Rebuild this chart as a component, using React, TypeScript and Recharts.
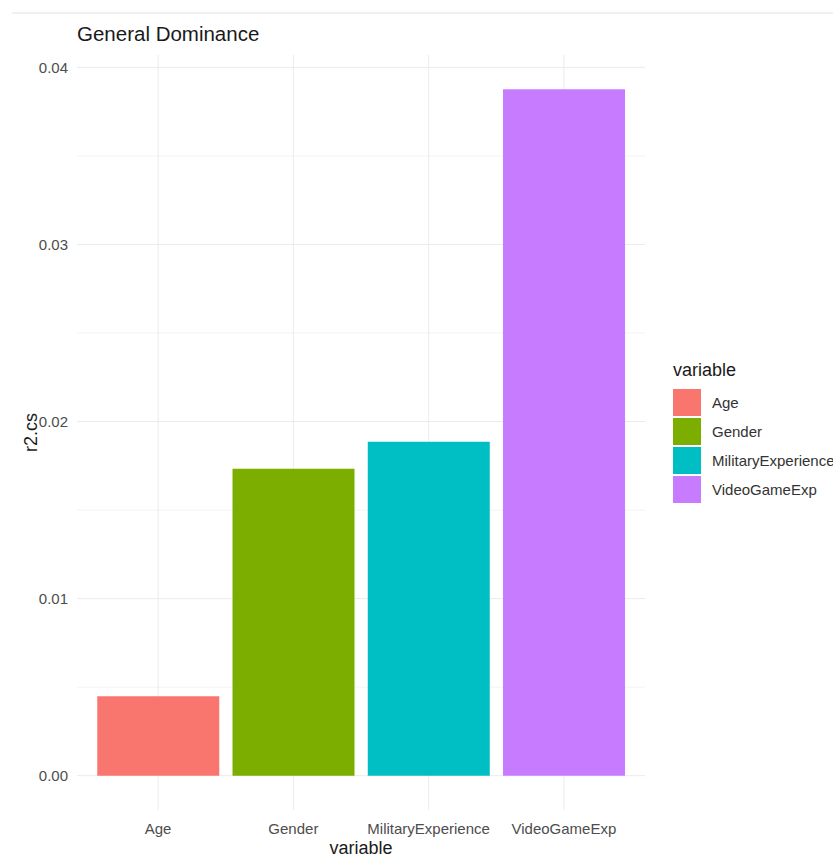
import React from 'react';
import { BarChart, Bar, XAxis, YAxis, CartesianGrid, Cell, Label } from 'recharts';

const categories = ['Age', 'Gender', 'MilitaryExperience', 'VideoGameExp'];
const values = [0.00448, 0.01733, 0.01886, 0.03876];
const colors = ['#F8766D', '#7CAE00', '#00BFC4', '#C77CFF'];
const yTicks = [0, 0.01, 0.02, 0.03, 0.04];
const yMinorTicks = [0.005, 0.015, 0.025, 0.035];
const titleText = 'General Dominance';
const xTitle = 'variable';
const yTitle = 'r2.cs';
const legendTitle = 'variable';

const data = categories.map((c, i) => ({ variable: c, value: values[i] }));
const maxVal = Math.max(...values);
const yDomain = [-maxVal * 0.05, maxVal * 1.05];

const FONT = '"Liberation Sans", Arial, sans-serif';

export default function App() {
  return (
    <div style={{ position: 'absolute', left: 0, top: 0, width: 833, height: 858, background: '#fff', fontFamily: FONT }}>
      <div style={{ position: 'absolute', left: 12, top: 12, width: 821, height: 0, borderTop: '2px solid #f0f0f0' }} />
      <div style={{ position: 'absolute', left: 77, top: 22, fontSize: 20.5, color: '#1a1a1a', whiteSpace: 'nowrap' }}>{titleText}</div>
      <BarChart width={833} height={858} data={data} margin={{ top: 55, right: 188, bottom: 0, left: 0 }} barCategoryGap="5%">
        <CartesianGrid vertical={false} stroke="#f3f3f3" strokeWidth={1} yAxisId="minor" syncWithTicks />
        <CartesianGrid stroke="#ebebeb" strokeWidth={1} syncWithTicks />
        <XAxis
          dataKey="variable"
          type="category"
          height={48}
          padding={{ left: 13.5, right: 13.5 }}
          axisLine={false}
          tickLine={false}
          tickSize={0}
          tickMargin={13}
          tick={{ fill: '#4d4d4d', fontSize: 15, fontFamily: FONT }}
          interval={0}
        >
          <Label value={xTitle} position="insideBottom" offset={4} style={{ fill: '#1a1a1a', fontSize: 18, fontFamily: FONT }} />
        </XAxis>
        <YAxis yAxisId="minor" type="number" domain={yDomain} ticks={yMinorTicks} hide allowDataOverflow />
        <YAxis
          type="number"
          domain={yDomain}
          ticks={yTicks}
          width={77}
          axisLine={false}
          tickLine={false}
          tickSize={0}
          tickMargin={9}
          tickFormatter={(v: number) => v.toFixed(2)}
          tick={{ fill: '#4d4d4d', fontSize: 15, fontFamily: FONT }}
          allowDataOverflow
        >
          <Label
            content={(props: any) => {
              const vb = props.viewBox || { x: 0, y: 55, width: 77, height: 755 };
              const cx = vb.x + 31;
              const cy = vb.y + vb.height / 2;
              return (
                <text x={cx} y={cy} transform={`rotate(-90 ${cx} ${cy})`} textAnchor="middle" dominantBaseline="central" fill="#1a1a1a" fontSize={18} fontFamily={FONT}>
                  {yTitle}
                </text>
              );
            }}
          />
        </YAxis>
        <Bar dataKey="value" isAnimationActive={false}>
          {data.map((d, i) => (
            <Cell key={d.variable} fill={colors[i]} />
          ))}
        </Bar>
      </BarChart>
      <div style={{ position: 'absolute', left: 673, top: 360, fontSize: 18, color: '#1a1a1a', whiteSpace: 'nowrap' }}>{legendTitle}</div>
      {categories.map((c, i) => (
        <div key={c} style={{ position: 'absolute', left: 673, top: 389 + i * 29, height: 27, display: 'flex', alignItems: 'center', whiteSpace: 'nowrap' }}>
          <div style={{ width: 28, height: 27, background: colors[i] }} />
          <div style={{ marginLeft: 11, fontSize: 15, color: '#333' }}>{c}</div>
        </div>
      ))}
    </div>
  );
}
